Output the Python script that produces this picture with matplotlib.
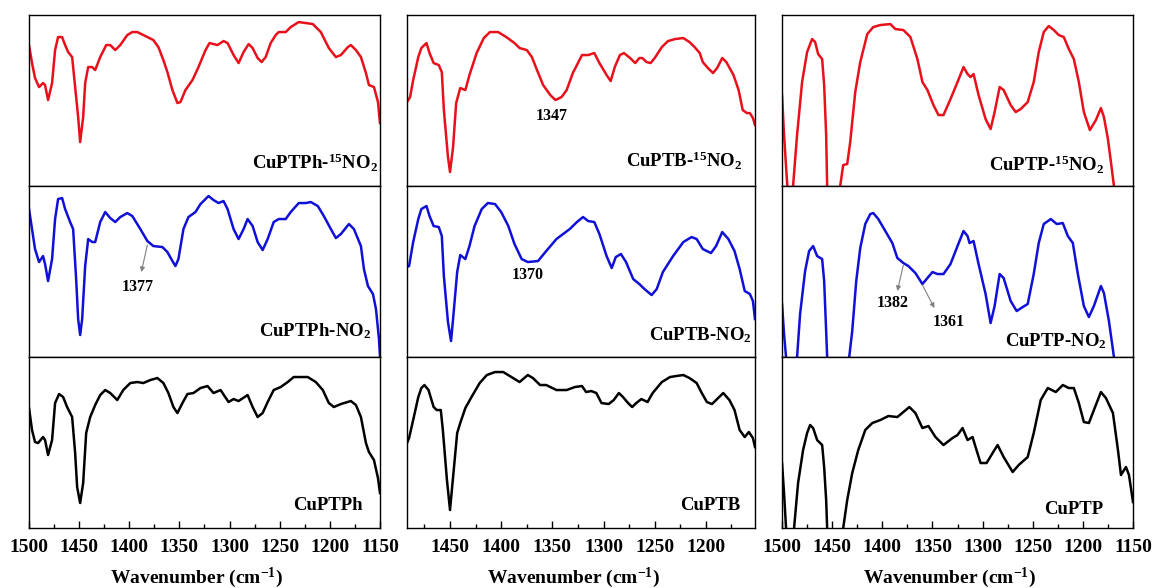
import matplotlib
matplotlib.use('Agg')
import matplotlib.pyplot as plt
from matplotlib.ticker import MultipleLocator

plt.rcParams['font.family'] = 'Liberation Serif'
plt.rcParams['font.weight'] = 'bold'
plt.rcParams['mathtext.fontset'] = 'custom'
plt.rcParams['mathtext.rm'] = 'Liberation Serif:bold'
plt.rcParams['mathtext.it'] = 'Liberation Serif:bold'
plt.rcParams['mathtext.bf'] = 'Liberation Serif:bold'

# ---- CuPTPh column ----
cuptph_15no2_wn = [1500, 1497, 1494, 1490, 1486, 1484, 1481, 1477, 1474, 1471, 1467, 1464, 1461, 1457, 1454, 1451,
                   1449, 1446, 1444, 1441, 1437, 1434, 1429, 1423, 1419, 1414, 1409, 1402, 1397, 1392, 1386, 1376,
                   1371, 1366, 1362, 1357, 1352, 1349, 1344, 1337, 1331, 1324, 1320, 1312, 1306, 1302, 1296, 1291,
                   1286, 1281, 1277, 1272, 1268, 1264, 1259, 1254, 1251, 1244, 1239, 1231, 1224, 1217, 1209, 1201,
                   1194, 1189, 1182, 1179, 1174, 1169, 1164, 1161, 1156, 1152, 1150]
cuptph_15no2_t = [141, 123, 108, 99, 103, 101, 86, 103, 136, 149, 149, 141, 134, 129, 99, 69,
                  44, 69, 103, 119, 119, 116, 129, 141, 141, 136, 141, 151, 154, 154, 151, 146,
                  139, 126, 114, 96, 83, 84, 96, 106, 119, 136, 143, 141, 145, 143, 131, 123,
                  134, 142, 138, 128, 124, 129, 143, 151, 154, 154, 159, 164, 163, 162, 154, 138,
                  129, 131, 139, 141, 136, 129, 113, 101, 99, 84, 63]

cuptph_no2_wn = [1500, 1497, 1494, 1490, 1486, 1484, 1481, 1477, 1474, 1471, 1467, 1464, 1459, 1456, 1453, 1451,
                 1449, 1447, 1444, 1441, 1437, 1434, 1429, 1424, 1419, 1414, 1409, 1402, 1397, 1389, 1382, 1376,
                 1367, 1362, 1357, 1354, 1351, 1346, 1341, 1334, 1329, 1321, 1316, 1311, 1306, 1302, 1296, 1291,
                 1286, 1282, 1277, 1272, 1267, 1262, 1256, 1251, 1244, 1239, 1231, 1224, 1219, 1212, 1206, 1199,
                 1194, 1189, 1181, 1176, 1169, 1166, 1162, 1157, 1154, 1151, 1150]
cuptph_no2_t = [148, 128, 108, 95, 101, 93, 76, 98, 138, 158, 159, 148, 135, 128, 78, 38,
                22, 38, 91, 118, 115, 115, 135, 145, 139, 135, 140, 144, 141, 128, 116, 111,
                110, 105, 96, 91, 98, 128, 140, 145, 153, 161, 157, 154, 156, 148, 128, 118,
                128, 138, 131, 115, 107, 118, 135, 138, 138, 145, 154, 154, 155, 151, 141, 128,
                119, 123, 133, 128, 111, 88, 71, 63, 48, 18, 1]

cuptph_wn = [1500, 1497, 1494, 1491, 1486, 1484, 1481, 1477, 1474, 1470, 1466, 1462, 1457, 1454, 1452, 1449,
             1446, 1443, 1439, 1434, 1429, 1424, 1419, 1412, 1406, 1399, 1392, 1386, 1379, 1372, 1366, 1361,
             1356, 1352, 1347, 1342, 1336, 1329, 1322, 1316, 1309, 1305, 1301, 1296, 1291, 1282, 1277, 1272,
             1267, 1262, 1256, 1249, 1242, 1236, 1227, 1222, 1214, 1207, 1201, 1196, 1189, 1179, 1174, 1169,
             1164, 1161, 1156, 1152, 1150]
cuptph_t = [120, 98, 86, 85, 91, 88, 73, 88, 125, 134, 131, 121, 111, 75, 41, 25,
            45, 95, 111, 123, 133, 138, 135, 128, 138, 145, 146, 145, 148, 150, 145, 135,
            121, 115, 125, 134, 135, 140, 142, 135, 138, 132, 126, 129, 127, 133, 121, 111,
            115, 126, 138, 141, 146, 151, 151, 151, 146, 138, 125, 121, 124, 127, 123, 111,
            85, 76, 68, 50, 35]

# ---- CuPTB column ----
cuptb_15no2_wn = [1492, 1489, 1486, 1481, 1478, 1473, 1470, 1466, 1461, 1458, 1456, 1452, 1450, 1447, 1444, 1440,
                  1435, 1431, 1424, 1417, 1411, 1403, 1395, 1387, 1382, 1375, 1370, 1365, 1359, 1352, 1347, 1341,
                  1336, 1330, 1321, 1315, 1309, 1304, 1297, 1293, 1289, 1284, 1280, 1274, 1269, 1265, 1262, 1258,
                  1254, 1250, 1243, 1237, 1230, 1222, 1216, 1211, 1206, 1203, 1198, 1193, 1189, 1184, 1180, 1173,
                  1168, 1164, 1160, 1157, 1154, 1152]
cuptb_15no2_t = [84, 89, 106, 129, 138, 143, 133, 123, 121, 114, 76, 29, 14, 39, 83, 98,
                 96, 111, 133, 148, 154, 154, 149, 143, 138, 136, 129, 116, 101, 91, 86, 89,
                 96, 113, 131, 131, 133, 123, 111, 105, 119, 131, 133, 128, 123, 128, 128, 124,
                 123, 128, 139, 145, 147, 148, 144, 139, 133, 124, 118, 113, 118, 128, 124, 111,
                 96, 76, 73, 73, 68, 61]

cuptb_no2_wn = [1492, 1490, 1486, 1481, 1478, 1473, 1470, 1466, 1461, 1458, 1456, 1452, 1449, 1447, 1443, 1440,
                1435, 1431, 1426, 1419, 1413, 1406, 1400, 1393, 1387, 1380, 1374, 1364, 1356, 1346, 1333, 1326,
                1320, 1315, 1309, 1304, 1297, 1292, 1288, 1283, 1278, 1271, 1265, 1260, 1253, 1248, 1242, 1232,
                1222, 1214, 1209, 1203, 1195, 1190, 1184, 1178, 1172, 1167, 1162, 1157, 1154, 1152]
cuptb_no2_t = [90, 91, 115, 138, 148, 151, 141, 131, 130, 121, 81, 35, 16, 38, 85, 102,
               98, 111, 131, 148, 154, 153, 145, 131, 113, 98, 95, 96, 106, 118, 128, 135,
               140, 136, 135, 123, 101, 89, 100, 103, 95, 78, 73, 68, 62, 68, 85, 101,
               115, 120, 118, 108, 104, 111, 125, 118, 106, 88, 66, 63, 56, 38]

cuptb_wn = [1492, 1490, 1486, 1481, 1478, 1475, 1471, 1466, 1463, 1459, 1457, 1453, 1450, 1447, 1443, 1440,
            1435, 1429, 1421, 1414, 1406, 1398, 1390, 1382, 1374, 1369, 1362, 1356, 1346, 1336, 1328, 1321,
            1317, 1312, 1307, 1302, 1295, 1290, 1285, 1281, 1276, 1272, 1268, 1263, 1257, 1252, 1243, 1235,
            1229, 1222, 1216, 1209, 1204, 1199, 1194, 1190, 1183, 1177, 1172, 1167, 1162, 1158, 1154, 1152]
cuptb_t = [85, 90, 108, 131, 140, 143, 138, 121, 118, 118, 98, 48, 18, 51, 95, 105,
           120, 131, 145, 153, 156, 156, 151, 146, 153, 150, 143, 143, 138, 138, 141, 142,
           136, 137, 135, 125, 124, 128, 135, 131, 125, 121, 125, 129, 126, 135, 146, 151,
           152, 153, 150, 145, 135, 126, 124, 128, 135, 128, 118, 98, 91, 96, 90, 81]

# ---- CuPTP column ----
cuptp_15no2_wn = [1500, 1498, 1495, 1492, 1489, 1485, 1480, 1475, 1470, 1467, 1464, 1460, 1458, 1456, 1455, 1448,
                  1442, 1439, 1435, 1432, 1427, 1422, 1415, 1409, 1402, 1392, 1387, 1379, 1372, 1365, 1360, 1355,
                  1349, 1344, 1339, 1332, 1325, 1319, 1315, 1312, 1309, 1304, 1297, 1292, 1288, 1283, 1279, 1272,
                  1267, 1262, 1255, 1249, 1244, 1239, 1234, 1229, 1224, 1219, 1214, 1209, 1204, 1199, 1193, 1187,
                  1182, 1179, 1175, 1172, 1169, 1160, 1150]
cuptp_15no2_t = [91, 51, 4, -40, 0, 51, 104, 134, 147, 144, 132, 127, 101, 51, 0, -60,
                 0, 21, 22, 44, 94, 124, 152, 159, 161, 162, 157, 156, 149, 127, 104, 96,
                 81, 71, 71, 87, 104, 119, 112, 109, 112, 91, 67, 57, 74, 99, 96, 81,
                 74, 77, 84, 104, 134, 154, 160, 156, 151, 149, 137, 127, 104, 74, 56, 66,
                 78, 69, 47, 24, 0, -50, -80]

cuptp_no2_wn = [1500, 1498, 1496, 1490, 1485, 1482, 1477, 1473, 1469, 1465, 1460, 1458, 1456, 1455, 1445, 1433,
                1430, 1426, 1422, 1417, 1412, 1409, 1404, 1397, 1390, 1385, 1379, 1374, 1367, 1360, 1355, 1350,
                1345, 1339, 1332, 1325, 1319, 1315, 1313, 1309, 1304, 1297, 1292, 1288, 1283, 1279, 1272, 1266,
                1260, 1255, 1249, 1244, 1239, 1232, 1226, 1220, 1215, 1210, 1205, 1199, 1194, 1189, 1182, 1179,
                1174, 1169, 1160, 1150]
cuptp_no2_t = [53, 23, 0, -50, 0, 43, 86, 106, 111, 101, 98, 76, 26, 0, -70, 0,
               26, 76, 109, 133, 143, 144, 138, 126, 114, 99, 94, 91, 84, 73, 79, 85,
               83, 83, 93, 111, 126, 121, 114, 116, 93, 63, 34, 51, 83, 79, 56, 46,
               50, 53, 83, 114, 133, 138, 133, 134, 121, 114, 83, 51, 40, 51, 71, 64,
               36, 0, -50, -80]

cuptp_wn = [1500, 1498, 1496, 1492, 1488, 1484, 1479, 1475, 1472, 1469, 1465, 1460, 1458, 1456, 1455, 1447,
            1439, 1435, 1430, 1424, 1417, 1410, 1402, 1394, 1385, 1379, 1373, 1367, 1360, 1354, 1347, 1339,
            1330, 1325, 1320, 1315, 1310, 1307, 1302, 1296, 1290, 1285, 1279, 1270, 1264, 1255, 1249, 1242,
            1235, 1227, 1220, 1214, 1209, 1204, 1199, 1194, 1189, 1182, 1177, 1170, 1165, 1162, 1157, 1154,
            1150]
cuptp_t = [65, 35, 0, -40, 0, 45, 78, 95, 103, 100, 88, 83, 61, 28, 0, -60,
           0, 28, 55, 78, 98, 105, 108, 112, 111, 116, 121, 115, 100, 102, 91, 83,
           90, 93, 100, 88, 91, 81, 65, 65, 75, 83, 71, 56, 63, 71, 95, 128,
           140, 136, 143, 140, 140, 125, 106, 105, 118, 136, 130, 115, 78, 53, 61, 53,
           26]

columns = [
    {'xlim': (1500, 1150), 'x0': 0.0251, 'w': 0.3036,
     'curves': [(cuptph_15no2_wn, cuptph_15no2_t, 'CuPTPh-$^{15}$NO$_2$', 0.994, 0.10),
                (cuptph_no2_wn, cuptph_no2_t, 'CuPTPh-NO$_2$', 0.974, 0.12),
                (cuptph_wn, cuptph_t, 'CuPTPh', 0.952, 0.105)]},
    {'xlim': (1492, 1152), 'x0': 0.3521, 'w': 0.3010,
     'curves': [(cuptb_15no2_wn, cuptb_15no2_t, 'CuPTB-$^{15}$NO$_2$', 0.966, 0.11),
                (cuptb_no2_wn, cuptb_no2_t, 'CuPTB-NO$_2$', 0.991, 0.10),
                (cuptb_wn, cuptb_t, 'CuPTB', 0.957, 0.105)]},
    {'xlim': (1500, 1150), 'x0': 0.6765, 'w': 0.3036,
     'curves': [(cuptp_15no2_wn, cuptp_15no2_t, 'CuPTP-$^{15}$NO$_2$', 0.92, 0.085),
                (cuptp_no2_wn, cuptp_no2_t, 'CuPTP-NO$_2$', 0.926, 0.065),
                (cuptp_wn, cuptp_t, 'CuPTP', 0.915, 0.08)]},
]
colors = ['#e8101a', '#1010d8', 'black']
row_h = 0.2908
row_bottoms = [0.102 + 2 * row_h, 0.102 + row_h, 0.102]

fig = plt.figure(figsize=(11.56, 5.88), dpi=100)
axes = []
for col in columns:
    col_axes = []
    for r, (wn, t, name, tx, ty) in enumerate(col['curves']):
        ax = fig.add_axes([col['x0'], row_bottoms[r], col['w'], row_h])
        ax.plot(wn, t, color=colors[r], lw=1.8)
        ax.set_xlim(*col['xlim'])
        ax.set_ylim(0, 171)
        ax.set_yticks([])
        for s in ax.spines.values():
            s.set_linewidth(1.0)
        ax.text(tx, ty, name, transform=ax.transAxes, ha='right', va='baseline', fontsize=13.5)
        if r < 2:
            ax.set_xticks([])
        else:
            ax.xaxis.set_major_locator(MultipleLocator(50))
            ax.xaxis.set_minor_locator(MultipleLocator(25))
            ax.tick_params(axis='x', which='major', direction='in', length=5, width=1, labelsize=14, pad=8)
            ax.tick_params(axis='x', which='minor', direction='in', length=3, width=1)
            ax.text(0.477, -0.29, 'Wavenumber (cm$^{-1}$)', transform=ax.transAxes,
                    ha='center', va='center', fontsize=14)
        col_axes.append(ax)
    axes.append(col_axes)

# peak annotations
arrow = dict(arrowstyle='-|>', color='gray', lw=0.8, mutation_scale=7, shrinkA=0, shrinkB=0)
axes[1][0].text(1351, 70, '1347', ha='center', va='center', fontsize=11.5)
axes[0][1].text(1392, 70, '1377', ha='center', va='center', fontsize=11.5)
axes[0][1].annotate('', xy=(1388, 85), xytext=(1382, 112), arrowprops=arrow)
axes[1][1].text(1374, 82, '1370', ha='center', va='center', fontsize=11.5)
axes[2][1].text(1390, 54, '1382', ha='center', va='center', fontsize=11.5)
axes[2][1].annotate('', xy=(1385, 66), xytext=(1379, 92), arrowprops=arrow)
axes[2][1].text(1334, 35, '1361', ha='center', va='center', fontsize=11.5)
axes[2][1].annotate('', xy=(1348, 49), xytext=(1360, 72), arrowprops=arrow)

fig.savefig('out.png', dpi=100)
